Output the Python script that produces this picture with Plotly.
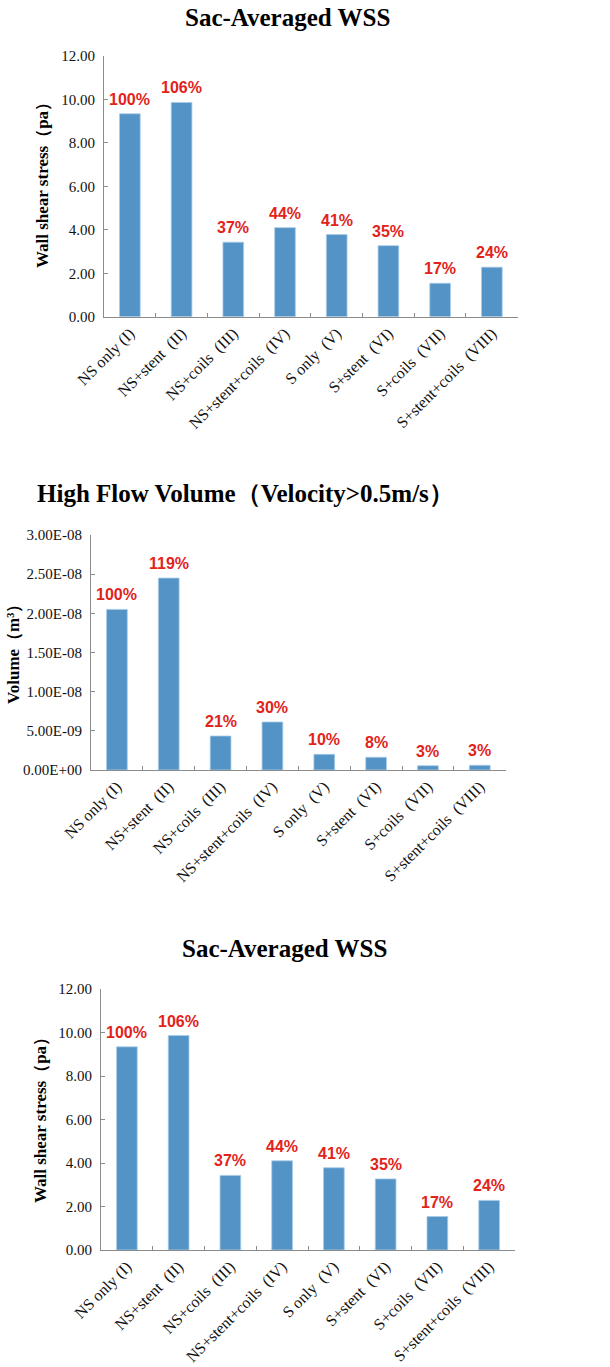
import plotly.graph_objects as go

# ---------------- data ----------------
categories = [
    "NS only (I)",
    "NS+stent\u00a0 (II)",
    "NS+coils\u00a0 (III)",
    "NS+stent+coils\u00a0 (IV)",
    "S only\u00a0 (V)",
    "S+stent\u00a0 (VI)",
    "S+coils\u00a0 (VII)",
    "S+stent+coils\u00a0 (VIII)",
]
wss_values = [9.34, 9.86, 3.43, 4.10, 3.78, 3.27, 1.54, 2.28]
wss_pct = ["100%", "106%", "37%", "44%", "41%", "35%", "17%", "24%"]

volume_values = [2.05e-8, 2.45e-8, 4.34e-9, 6.13e-9, 2.0e-9, 1.62e-9, 0.55e-9, 0.6e-9]
volume_pct = ["100%", "119%", "21%", "30%", "10%", "8%", "3%", "3%"]

wss_ticks = [0, 2, 4, 6, 8, 10, 12]
wss_ticktext = ["0.00", "2.00", "4.00", "6.00", "8.00", "10.00", "12.00"]
vol_ticks = [0, 5e-9, 1e-8, 1.5e-8, 2e-8, 2.5e-8, 3e-8]
vol_ticktext = ["0.00E+00", "5.00E-09", "1.00E-08", "1.50E-08", "2.00E-08", "2.50E-08", "3.00E-08"]

titles = ["Sac-Averaged WSS", "High Flow Volume\uff08Velocity>0.5m/s\uff09", "Sac-Averaged WSS"]
ytitles = ["Wall shear stress\uff08pa\uff09", "Volume\uff08m\u00b3\uff09", "Wall shear stress\uff08pa\uff09"]

# ---------------- layout constants ----------------
W, H = 610, 1367
BAR_COLOR = "#5393C6"
AXIS_COLOR = "#8C8C8C"
RED = "#E2231A"
SERIF = "Liberation Serif, Times New Roman, serif"
SANS = "Liberation Sans, Arial, sans-serif"

def fx(px):
    return px / W

def fy(py):
    return 1 - py / H

panels = [
    dict(values=wss_values, pct=wss_pct, ticks=wss_ticks, ticktext=wss_ticktext, yrange=[0, 12],
         xdom=[104, 517.7], ydom=[316.7, 56], title_xy=(287, 17), ytitle_xy=(43, 181)),
    dict(values=volume_values, pct=volume_pct, ticks=vol_ticks, ticktext=vol_ticktext, yrange=[0, 3e-8],
         xdom=[91, 505.7], ydom=[770, 535], title_xy=(245, 493), ytitle_xy=(13, 650)),
    dict(values=wss_values, pct=wss_pct, ticks=wss_ticks, ticktext=wss_ticktext, yrange=[0, 12],
         xdom=[101, 515], ydom=[1250, 989], title_xy=(284, 949), ytitle_xy=(40, 1116)),
]

fig = go.Figure()
annotations = []
layout_axes = {}

for i, p in enumerate(panels):
    n = "" if i == 0 else str(i + 1)
    xa, ya = "x" + n, "y" + n
    fig.add_trace(go.Bar(
        x=categories, y=p["values"], xaxis=xa, yaxis=ya,
        marker=dict(color=BAR_COLOR, line=dict(color="#A8CBE8", width=0.8)),
        showlegend=False, hoverinfo="x+y",
    ))
    layout_axes["xaxis" + n] = dict(
        domain=[fx(p["xdom"][0]), fx(p["xdom"][1])], anchor=ya, type="category",
        range=[-0.5, len(categories) - 0.5], automargin=False,
        showline=True, linecolor=AXIS_COLOR, linewidth=1.2,
        ticks="inside", ticklen=4, tickcolor=AXIS_COLOR, tickwidth=1, tickson="boundaries",
        tickangle=-45, tickfont=dict(family=SERIF, size=16, color="#111"),
        showgrid=False, zeroline=False, fixedrange=True,
    )
    layout_axes["yaxis" + n] = dict(
        domain=[fy(p["ydom"][0]), fy(p["ydom"][1])], anchor=xa,
        range=p["yrange"], tickvals=p["ticks"], ticktext=p["ticktext"], automargin=False,
        showline=True, linecolor=AXIS_COLOR, linewidth=1.2,
        ticks="inside", ticklen=4, tickcolor=AXIS_COLOR, tickwidth=1,
        tickfont=dict(family=SERIF, size=15, color="#111"),
        ticklabelstandoff=5,
        showgrid=False, zeroline=False, fixedrange=True,
    )
    # percentage labels above bars
    for c, v, t in zip(categories, p["values"], p["pct"]):
        annotations.append(dict(
            x=c, y=v, xref=xa, yref=ya, text="<b>" + t + "</b>", showarrow=False,
            yanchor="bottom", yshift=4,
            font=dict(family=SANS, size=16, color=RED),
        ))
    # panel title
    tx, ty = p["title_xy"]
    annotations.append(dict(
        x=fx(tx), y=fy(ty), xref="paper", yref="paper", text="<b>" + titles[i] + "</b>",
        showarrow=False, xanchor="center", yanchor="middle",
        font=dict(family=SERIF, size=25, color="#000"),
    ))
    # y axis title
    yx, yy = p["ytitle_xy"]
    annotations.append(dict(
        x=fx(yx), y=fy(yy), xref="paper", yref="paper", text="<b>" + ytitles[i] + "</b>",
        showarrow=False, xanchor="center", yanchor="middle", textangle=-90,
        font=dict(family=SERIF, size=17, color="#000"),
    ))

fig.update_layout(
    width=W, height=H, autosize=False,
    margin=dict(l=0, r=0, t=0, b=0, pad=0, autoexpand=False),
    paper_bgcolor="white", plot_bgcolor="white",
    bargap=0.6,
    annotations=annotations,
    **layout_axes,
)

fig.write_html(
    "out.html",
    config={"displayModeBar": False, "staticPlot": False},
    post_script="document.body.style.margin='0px';document.body.style.overflow='hidden';",
)
